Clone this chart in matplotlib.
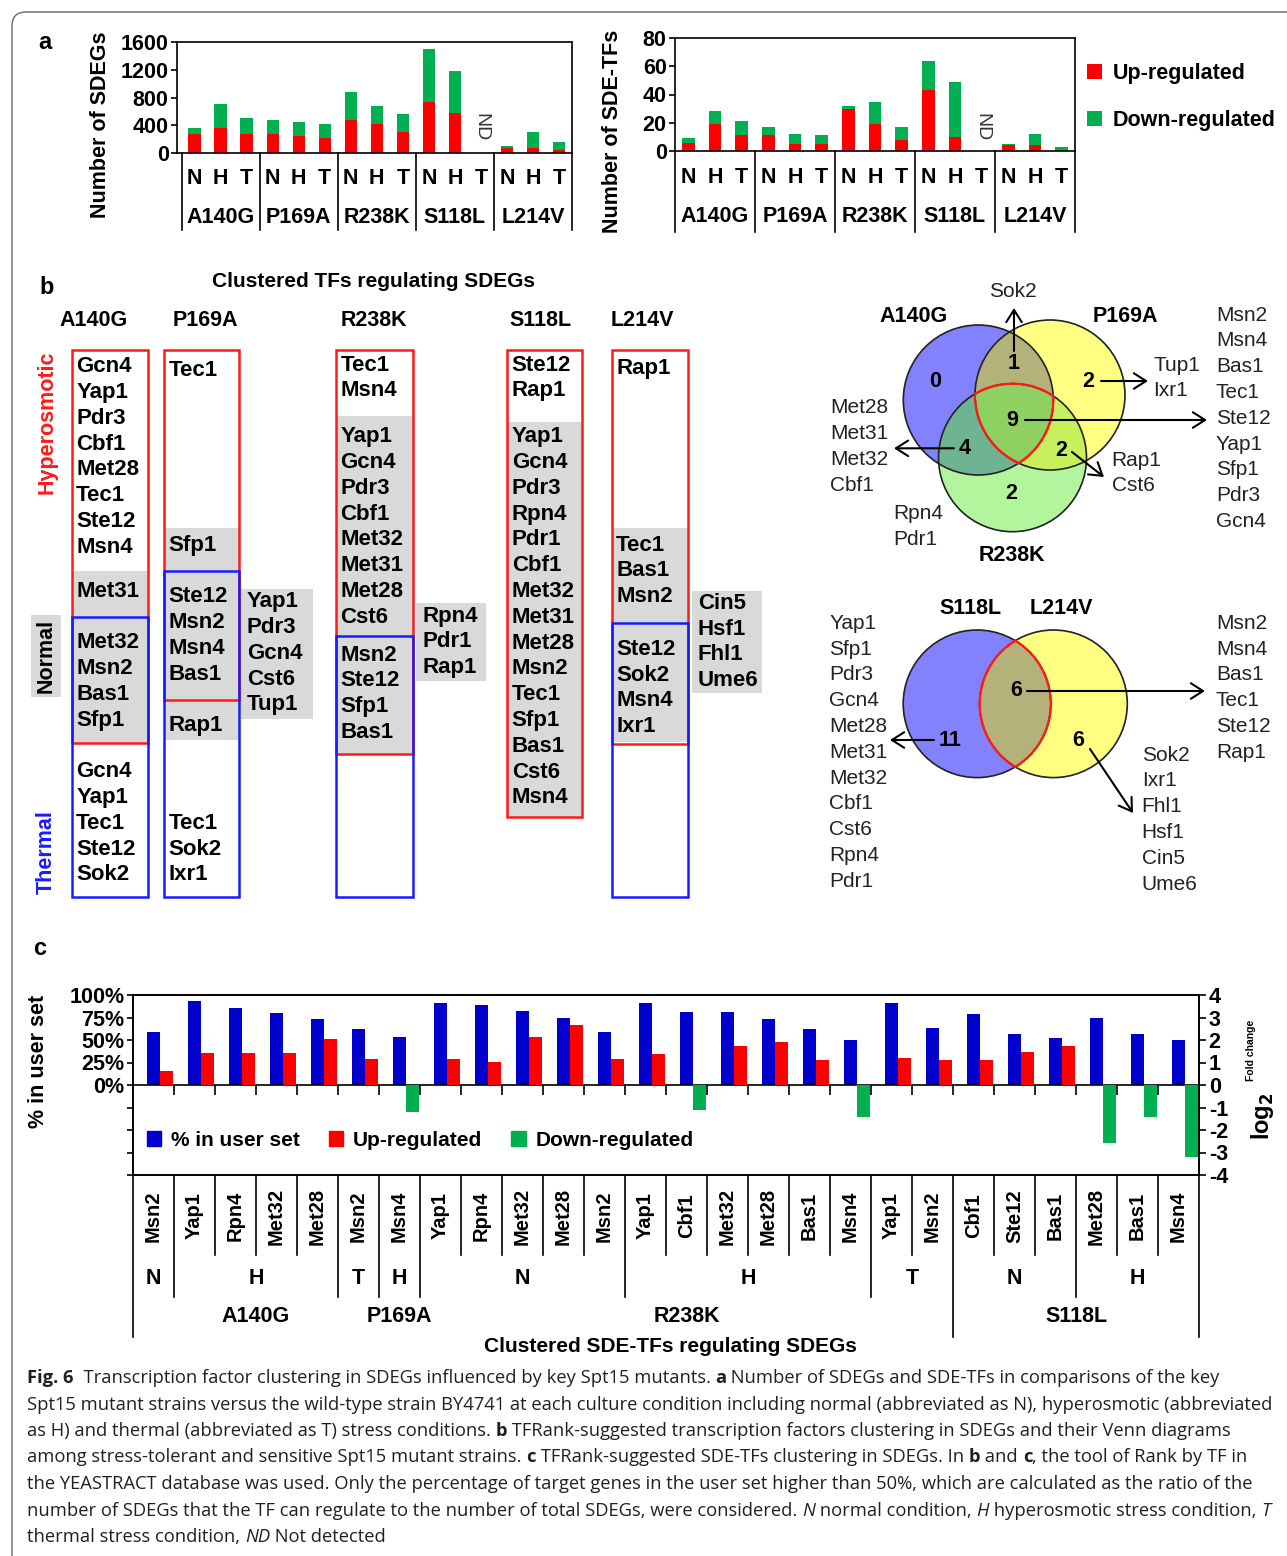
import matplotlib
matplotlib.use("Agg")
import matplotlib.pyplot as plt
import matplotlib.transforms as mtransforms
import numpy as np
from matplotlib.patches import Rectangle, Circle, FancyBboxPatch, Patch
from matplotlib.colors import to_rgba

plt.rcParams['font.family'] = ['Liberation Sans', 'DejaVu Sans']
plt.rcParams['font.weight'] = 'bold'
plt.rcParams['axes.unicode_minus'] = False

W, H = 1287, 1556
RED, GREEN, BLUE = '#ff0000', '#00b050', '#0000cc'
BOXRED, BOXBLUE, GRAY = '#ff1a1a', '#1a1aff', '#d9d9d9'

# ---------- panel a: numbers of SDEGs / SDE-TFs (N, H, T for each strain)
conds = ["N", "H", "T"]
strains_a = ["A140G", "P169A", "R238K", "S118L", "L214V"]
sdeg_up = [280, 360, 275, 275, 250, 220, 480, 420, 305, 740, 570, 0, 75, 70, 45]
sdeg_down = [80, 350, 230, 200, 200, 200, 400, 260, 260, 760, 610, 0, 20, 235, 115]
tf_up = [6, 19, 11, 11, 5, 5, 30, 19, 8, 43, 10, 0, 4, 4, 0]
tf_down = [3, 9, 10, 6, 7, 6, 2, 16, 9, 21, 39, 0, 1, 8, 3]
nd_index = 11  # S118L under thermal stress: not detected

# ---------- panel b: clustered TFs per strain
# h = hyperosmotic only, hn = hyperosmotic+normal, hnt = all three,
# nt = normal+thermal, t = thermal only, n = normal only
a140g_h = ["Gcn4", "Yap1", "Pdr3", "Cbf1", "Met28", "Tec1", "Ste12", "Msn4"]
a140g_hn = ["Met31"]
a140g_hnt = ["Met32", "Msn2", "Bas1", "Sfp1"]
a140g_t = ["Gcn4", "Yap1", "Tec1", "Ste12", "Sok2"]
p169a_h = ["Tec1"]
p169a_hn = ["Sfp1"]
p169a_hnt = ["Ste12", "Msn2", "Msn4", "Bas1"]
p169a_nt = ["Rap1"]
p169a_t = ["Tec1", "Sok2", "Ixr1"]
p169a_n = ["Yap1", "Pdr3", "Gcn4", "Cst6", "Tup1"]
r238k_h = ["Tec1", "Msn4"]
r238k_hn = ["Yap1", "Gcn4", "Pdr3", "Cbf1", "Met32", "Met31", "Met28", "Cst6"]
r238k_hnt = ["Msn2", "Ste12", "Sfp1", "Bas1"]
r238k_n = ["Rpn4", "Pdr1", "Rap1"]
s118l_h = ["Ste12", "Rap1"]
s118l_hn = ["Yap1", "Gcn4", "Pdr3", "Rpn4", "Pdr1", "Cbf1", "Met32", "Met31",
            "Met28", "Msn2", "Tec1", "Sfp1", "Bas1", "Cst6", "Msn4"]
l214v_h = ["Rap1"]
l214v_hn = ["Tec1", "Bas1", "Msn2"]
l214v_hnt = ["Ste12", "Sok2", "Msn4", "Ixr1"]
l214v_n = ["Cin5", "Hsf1", "Fhl1", "Ume6"]

# venn sets (tolerant strains / sensitive strains)
venn1_names = ["A140G", "P169A", "R238K"]
venn1_a = []
venn1_b = ["Tup1", "Ixr1"]
venn1_c = ["Rpn4", "Pdr1"]
venn1_ab = ["Sok2"]
venn1_ac = ["Met28", "Met31", "Met32", "Cbf1"]
venn1_bc = ["Rap1", "Cst6"]
venn1_abc = ["Msn2", "Msn4", "Bas1", "Tec1", "Ste12", "Yap1", "Sfp1", "Pdr3", "Gcn4"]
venn2_names = ["S118L", "L214V"]
venn2_a = ["Yap1", "Sfp1", "Pdr3", "Gcn4", "Met28", "Met31", "Met32", "Cbf1",
           "Cst6", "Rpn4", "Pdr1"]
venn2_b = ["Sok2", "Ixr1", "Fhl1", "Hsf1", "Cin5", "Ume6"]
venn2_ab = ["Msn2", "Msn4", "Bas1", "Tec1", "Ste12", "Rap1"]

# ---------- panel c: clustered SDE-TFs
c_tf = ["Msn2", "Yap1", "Rpn4", "Met32", "Met28", "Msn2", "Msn4", "Yap1", "Rpn4",
        "Met32", "Met28", "Msn2", "Yap1", "Cbf1", "Met32", "Met28", "Bas1", "Msn4",
        "Yap1", "Msn2", "Cbf1", "Ste12", "Bas1", "Met28", "Bas1", "Msn4"]
c_cond = ["N", "H", "H", "H", "H", "T", "H", "N", "N", "N", "N", "N", "H", "H",
          "H", "H", "H", "H", "T", "T", "N", "N", "N", "H", "H", "H"]
c_strain = ["A140G"] * 5 + ["P169A"] * 2 + ["R238K"] * 13 + ["S118L"] * 6
c_pct = [59, 93, 86, 80, 73, 62, 53, 91, 89, 82, 75, 59, 91, 81, 81, 73, 62, 50,
         91, 63, 79, 57, 52, 75, 57, 50]
c_up = [0.62, 1.41, 1.41, 1.41, 2.03, 1.14, 0, 1.14, 1.04, 2.12, 2.67, 1.14, 1.39,
        0, 1.73, 1.91, 1.12, 0, 1.19, 1.12, 1.12, 1.46, 1.73, 0, 0, 0]
c_down = [0, 0, 0, 0, 0, 0, -1.19, 0, 0, 0, 0, 0, 0, -1.12, 0, 0, 0, -1.42, 0, 0,
          0, 0, 0, -2.57, -1.42, -3.19]


fig = plt.figure(figsize=(W / 100, H / 100), dpi=100)
bg = fig.add_axes([0, 0, 1, 1])
bg.set_xlim(0, W)
bg.set_ylim(H, 0)
bg.axis('off')


def px_rect(x0, y0, x1, y1):
    return [x0 / W, 1 - y1 / H, (x1 - x0) / W, (y1 - y0) / H]


def blend(ax):
    return mtransforms.blended_transform_factory(ax.transData, bg.transData)


bg.add_patch(FancyBboxPatch((12, 12), 1320, 1600, boxstyle='round,pad=0,rounding_size=14',
                            fc='none', ec='#666666', lw=1.0))


# ---------- panel a
def stacked_panel(rect, up, down, ymax, step, xleft, lab_y, sep_end, ylabel, ylab_xy):
    ax = fig.add_axes(px_rect(*rect))
    x = np.arange(len(up))
    ax.bar(x, up, 0.48, color=RED, label='Up-regulated')
    ax.bar(x, down, 0.48, bottom=up, color=GREEN, label='Down-regulated')
    ax.set_xlim(xleft, 14.5)
    ax.set_ylim(0, ymax)
    ax.set_yticks(np.arange(0, ymax + 1, step))
    ax.set_xticks([])
    ax.tick_params(axis='y', labelsize=15.5, length=4, width=1.2, pad=2)
    for s in ax.spines.values():
        s.set_linewidth(1.2)
    tr = blend(ax)
    for b in np.arange(-0.5, 15, 3):
        ax.plot([b, b], [rect[3], sep_end], transform=tr, clip_on=False, color='k', lw=1.2)
    for i in x:
        ax.text(i, lab_y[0], conds[i % 3], transform=tr, ha='center', va='center', fontsize=15.5)
    for g, s in enumerate(strains_a):
        ax.text(3 * g + 1, lab_y[1], s, transform=tr, ha='center', va='center', fontsize=15.5)
    ax.text(nd_index, 127, 'ND', transform=tr, rotation=-90, ha='center', va='center',
            fontsize=14, fontweight='normal', color='#333333')
    bg.text(ylab_xy[0], ylab_xy[1], ylabel, rotation=90, ha='center', va='center', fontsize=15.5)
    return ax


ax_a1 = stacked_panel((177, 42, 572, 153), sdeg_up, sdeg_down, 1600, 400, -0.68,
                      (178, 217), 230, 'Number of SDEGs', (100, 125))
ax_a2 = stacked_panel((675, 38, 1075, 151), tf_up, tf_down, 80, 20, -0.5,
                      (177, 216), 232, 'Number of SDE-TFs', (613, 131))
ax_a2.legend(loc='upper left', bbox_to_anchor=(1.03, 0.775), frameon=False, fontsize=15.5,
             handlelength=0.7, handleheight=0.7, handletextpad=0.5, labelspacing=1.2,
             borderpad=0, borderaxespad=0)
bg.text(45, 42, 'a', fontsize=17, ha='center', va='center')

# ---------- panel b: boxes of clustered TFs
LS = 25.8
bg.text(46.7, 287, 'b', fontsize=17, ha='center', va='center')
bg.text(373, 281, 'Clustered TFs regulating SDEGs', fontsize=15, ha='center', va='center')
for name, hx in zip(strains_a, [93.5, 205.5, 373.5, 541, 642]):
    bg.text(hx, 320, name, fontsize=15.5, ha='center', va='center')
bg.text(46.7, 422, 'Hyperosmotic', rotation=90, color=BOXRED, fontsize=15.5, ha='center', va='center')
bg.text(46, 656, 'Normal', rotation=90, fontsize=15.5, ha='center', va='center',
        bbox=dict(fc=GRAY, ec='none', pad=3))
bg.text(46, 852, 'Thermal', rotation=90, color=BOXBLUE, fontsize=15.5, ha='center', va='center')


def tf_lines(x, y0, names, **kw):
    for k, n in enumerate(names):
        bg.text(x, y0 + k * LS, n, fontsize=16, ha='left', va='center', zorder=6, **kw)


columns = [
    (71.7, 148.3, (350, 743), (617, 897), (571, 743),
     [(a140g_h, 366.7), (a140g_hn, 591.7), (a140g_hnt, 642.7), (a140g_t, 771.7)], None),
    (164, 239.3, (350, 700), (571, 897), (528, 740),
     [(p169a_h, 370), (p169a_hn, 545), (p169a_hnt, 596.7), (p169a_nt, 725.7), (p169a_t, 823.3)],
     ((241, 589, 312.7, 719), p169a_n, 601.7)),
    (336, 412.7, (350, 754), (636, 897), (416, 754),
     [(r238k_h, 365), (r238k_hn, 436.7), (r238k_hnt, 655)],
     ((416, 603, 486, 681), r238k_n, 616)),
    (507.3, 581.7, (350, 817), None, (422, 817),
     [(s118l_h, 365), (s118l_hn, 436.7)], None),
    (611.7, 688.3, (350, 744), (623, 897), (528, 742),
     [(l214v_h, 368), (l214v_hn, 545), (l214v_hnt, 649.3)],
     ((691.7, 591, 761.7, 693), l214v_n, 603.3)),
]
for x0, x1, red, blue, gray, segs, side in columns:
    bg.add_patch(Rectangle((x0, gray[0]), x1 - x0, gray[1] - gray[0], fc=GRAY, ec='none', zorder=2))
    bg.add_patch(Rectangle((x0, red[0]), x1 - x0, red[1] - red[0], fill=False, ec=BOXRED, lw=1.8, zorder=3))
    if blue:
        bg.add_patch(Rectangle((x0, blue[0]), x1 - x0, blue[1] - blue[0], fill=False, ec=BOXBLUE,
                               lw=1.8, zorder=4))
    for names, y0 in segs:
        tf_lines(x0 + 4.5, y0, names)
    if side:
        (sx0, sy0, sx1, sy1), names, y0 = side
        bg.add_patch(Rectangle((sx0, sy0), sx1 - sx0, sy1 - sy0, fc=GRAY, ec='none', zorder=2))
        tf_lines(sx0 + 6, y0, names)


# ---------- panel b: venn diagrams
def venn(circles, colors, frame, inner_code):
    x0, y0, x1, y1 = frame
    step = 0.5
    X, Y = np.meshgrid(np.arange(x0, x1, step) + step / 2, np.arange(y0, y1, step) + step / 2)
    code = np.zeros(X.shape, dtype=int)
    for k, (cx, cy, r) in enumerate(circles):
        code |= (((X - cx) ** 2 + (Y - cy) ** 2) <= r ** 2).astype(int) << k
    img = np.zeros(X.shape + (4,))
    for c, col in colors.items():
        img[code == c] = to_rgba(col)
    bg.imshow(img, extent=(x0, x1, y1, y0), aspect='auto', interpolation='antialiased', zorder=1)
    for cx, cy, r in circles:
        bg.add_patch(Circle((cx, cy), r, fill=False, ec='#222222', lw=1.2, zorder=3))
    bg.contour(X, Y, (code == inner_code).astype(float), levels=[0.5], colors=[BOXRED],
               linewidths=1.6, zorder=4)


def arrow(p0, p1):
    bg.annotate('', xy=p1, xytext=p0, zorder=7,
                arrowprops=dict(arrowstyle='->,head_length=0.55,head_width=0.35', lw=1.5,
                                color='k', shrinkA=0, shrinkB=0, mutation_scale=16))


def name_list(x, y0, names, ha='left'):
    for k, n in enumerate(names):
        bg.text(x, y0 + k * LS, n, fontsize=15, fontweight='normal', ha=ha, va='center',
                color='#222222', zorder=6)


def count(x, y, names):
    bg.text(x, y, str(len(names)), fontsize=15.5, ha='center', va='center', zorder=6)


venn([(978.3, 400, 75), (1050, 395, 75), (1012.5, 457.7, 74)],
     {1: '#8282ff', 2: '#ffff82', 4: '#b4f59c', 3: '#b5b27a', 5: '#6fb592',
      6: '#c6f25c', 7: '#8fd062'}, (895, 315, 1135, 540), 7)
for name, (x, y) in zip(venn1_names, [(913.3, 316.7), (1125, 316.7), (1011.7, 555)]):
    bg.text(x, y, name, fontsize=15.5, ha='center', va='center', zorder=6)
count(935, 381, venn1_a)
count(1088.3, 381, venn1_b)
count(1011.7, 493.3, venn1_c)
count(1014, 363.3, venn1_ab)
count(965, 448.3, venn1_ac)
count(1061.7, 450, venn1_bc)
count(1011.7, 420, venn1_abc)
arrow((1014, 351), (1014, 308))
arrow((1101, 381), (1148, 381))
arrow((1025, 420), (1207, 420))
arrow((954, 448.3), (894, 448.3))
arrow((1072, 452), (1104, 477))
name_list(1013.3, 291.7, venn1_ab, ha='center')
name_list(1153, 365, venn1_b)
name_list(1216, 315, venn1_abc)
name_list(830, 407.7, venn1_ac)
name_list(1111.7, 460, venn1_bc)
name_list(893.3, 513.3, venn1_c)

venn([(977, 703.8, 73.8), (1053.5, 703.8, 73.8)],
     {1: '#8282ff', 2: '#ffff82', 3: '#b5b27a'}, (895, 620, 1135, 790), 3)
for name, (x, y) in zip(venn2_names, [(970, 608.3), (1061.7, 608.3)]):
    bg.text(x, y, name, fontsize=15.5, ha='center', va='center', zorder=6)
count(1015.7, 690, venn2_ab)
count(950, 740, venn2_a)
count(1078.3, 740, venn2_b)
arrow((1027, 691), (1205, 691))
arrow((934, 740), (890, 740))
arrow((1090, 749), (1133, 813))
name_list(1216, 623.3, venn2_ab)
name_list(829.3, 623.3, venn2_a)
name_list(1141.7, 755, venn2_b)

# ---------- panel c
bg.text(40, 948, 'c', fontsize=17, ha='center', va='center')
ax_c = fig.add_axes(px_rect(133, 995, 1199, 1175))
ax_c2 = ax_c.twinx()
xc = np.arange(len(c_tf))
ax_c.bar(xc + 0.33, c_pct, 0.32, align='edge', color=BLUE)
ax_c2.bar(xc + 0.65, c_up, 0.32, align='edge', color=RED)
ax_c2.bar(xc + 0.65, c_down, 0.32, align='edge', color=GREEN)
ax_c.set_xlim(0, len(c_tf))
ax_c.set_ylim(-100, 100)
ax_c2.set_ylim(-4, 4)
ax_c.set_xticks([])
ax_c.set_yticks(np.arange(-100, 101, 25))
ax_c.set_yticklabels([''] * 4 + ['%d%%' % v for v in range(0, 101, 25)])
ax_c2.set_yticks(np.arange(-4, 5))
ax_c.tick_params(axis='y', labelsize=15.5, length=4, width=1.2, pad=2)
ax_c2.tick_params(axis='y', labelsize=15.5, length=5, width=1.2, pad=2)
for a in (ax_c, ax_c2):
    for s in a.spines.values():
        s.set_linewidth(1.2)
ax_c.axhline(0, color='k', lw=1.2)
ax_c.vlines(np.arange(1, len(c_tf)), -11, 0, color='k', lw=1.2)
ax_c2.legend(handles=[Patch(color=BLUE, label='% in user set'),
                      Patch(color=RED, label='Up-regulated'),
                      Patch(color=GREEN, label='Down-regulated')],
             ncol=3, loc='center left', bbox_to_anchor=(0.013, 0.194), frameon=False,
             fontsize=15, handlelength=0.7, handleheight=0.7, handletextpad=0.45,
             columnspacing=1.4, borderpad=0, borderaxespad=0)

tr = blend(ax_c)
n = len(c_tf)
long_lines = (0, 20, n)  # outer edges and the R238K / S118L split run full depth
for b in range(n + 1):
    if b in long_lines:
        end = 1337
    elif c_cond[b - 1] != c_cond[b] or c_strain[b - 1] != c_strain[b]:
        end = 1297
    else:
        end = 1255
    ax_c.plot([b, b], [1175, end], transform=tr, clip_on=False, color='k', lw=1.2)
for i, tf in enumerate(c_tf):
    ax_c.text(i + 0.5, 1216, tf, transform=tr, rotation=90, ha='center', va='center', fontsize=14.5)


def runs(keys):
    out, start = [], 0
    for i in range(1, len(keys) + 1):
        if i == len(keys) or keys[i] != keys[start]:
            out.append((keys[start], start, i))
            start = i
    return out


for (s, cnd), i0, i1 in runs(list(zip(c_strain, c_cond))):
    ax_c.text((i0 + i1) / 2, 1278, cnd, transform=tr, ha='center', va='center', fontsize=15.5)
label_shift = {"A140G": 0.5, "P169A": 0.5}
for s, i0, i1 in runs(c_strain):
    ax_c.text((i0 + i1) / 2 + label_shift.get(s, 0), 1316, s, transform=tr,
              ha='center', va='center', fontsize=15.5)
bg.text(670, 1346, 'Clustered SDE-TFs regulating SDEGs', fontsize=15, ha='center', va='center')
bg.text(38, 1061, '% in user set', rotation=90, fontsize=15.5, ha='center', va='center')
bg.text(1262, 1116, r'log$_\mathbf{2}$', rotation=90, fontsize=17, ha='center', va='center')
bg.text(1251, 1050, 'Fold change', rotation=90, fontsize=7.5, ha='center', va='center')

# ---------- caption
caption = [
    [("Fig. 6", "b"), ("  Transcription factor clustering in SDEGs influenced by key Spt15 mutants. ", ""),
     ("a", "b"), (" Number of SDEGs and SDE-TFs in comparisons of the key", "")],
    [("Spt15 mutant strains versus the wild-type strain BY4741 at each culture condition including "
      "normal (abbreviated as N), hyperosmotic (abbreviated", "")],
    [("as H) and thermal (abbreviated as T) stress conditions. ", ""), ("b", "b"),
     (" TFRank-suggested transcription factors clustering in SDEGs and their Venn diagrams", "")],
    [("among stress-tolerant and sensitive Spt15 mutant strains. ", ""), ("c", "b"),
     (" TFRank-suggested SDE-TFs clustering in SDEGs. In ", ""), ("b", "b"), (" and ", ""),
     ("c", "b"), (", the tool of Rank by TF in", "")],
    [("the YEASTRACT database was used. Only the percentage of target genes in the user set higher "
      "than 50%, which are calculated as the ratio of the", "")],
    [("number of SDEGs that the TF can regulate to the number of total SDEGs, were considered. ", ""),
     ("N", "i"), (" normal condition, ", ""), ("H", "i"), (" hyperosmotic stress condition, ", ""),
     ("T", "i")],
    [("thermal stress condition, ", ""), ("ND", "i"), (" Not detected", "")],
]
renderer = fig.canvas.get_renderer()


def rich_line(x, y, pieces, size, keep=True):
    x0, made = x, []
    for txt, st in pieces:
        t = bg.text(x, y, txt, fontsize=size, family='Open Sans', color='#231f20',
                    fontweight='bold' if st == 'b' else 'normal',
                    fontstyle='italic' if st == 'i' else 'normal', ha='left', va='center')
        x += t.get_window_extent(renderer=renderer).width
        made.append(t)
    if not keep:
        for t in made:
            t.remove()
    return x - x0


size = 12 * 1235 / rich_line(27, 0, caption[1], 12, keep=False)
for k, line in enumerate(caption):
    rich_line(27, 1378 + k * 26.5, line, size)

fig.savefig('out.png', dpi=100)
